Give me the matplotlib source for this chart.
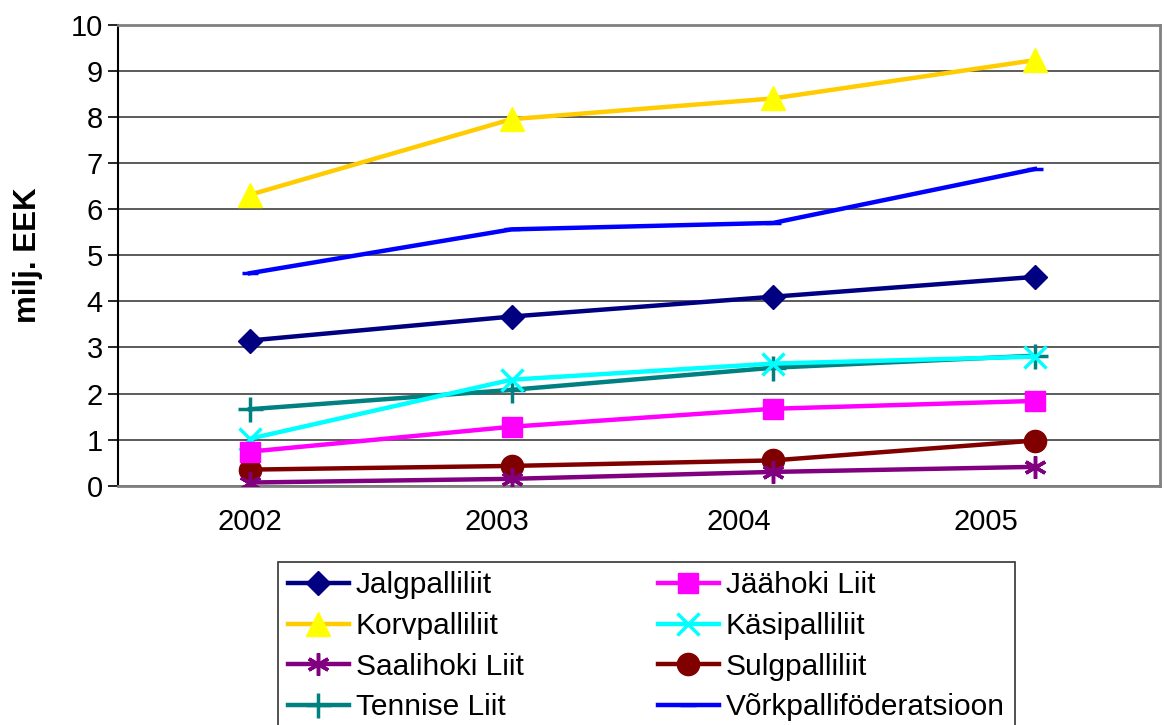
import numpy as np
import matplotlib.pyplot as plt

plt.rcParams['font.family'] = ['Liberation Sans', 'DejaVu Sans']

years = ['2002', '2003', '2004', '2005']
# label positions as drawn in the original (slightly shifted from the data points)
label_pos = [0, 0.943, 1.87, 2.813]

names = ['Jalgpalliliit', 'Jäähoki Liit', 'Korvpalliliit', 'Käsipalliliit',
         'Saalihoki Liit', 'Sulgpalliliit', 'Tennise Liit', 'Võrkpalliföderatsioon']
jalgpall = [3.15, 3.67, 4.10, 4.53]
jaahoki = [0.74, 1.28, 1.67, 1.84]
korvpall = [6.31, 7.95, 8.40, 9.23]
kasipall = [1.02, 2.30, 2.65, 2.80]
saalihoki = [0.07, 0.15, 0.30, 0.41]
sulgpall = [0.35, 0.43, 0.55, 0.98]
tennis = [1.66, 2.08, 2.56, 2.82]
vorkpall = [4.61, 5.56, 5.70, 6.87]

series = [jalgpall, jaahoki, korvpall, kasipall, saalihoki, sulgpall, tennis, vorkpall]
line_cols = ['#000080', '#FF00FF', '#FFCC00', '#00FFFF', '#800080', '#800000', '#008080', '#0000FF']
face_cols = ['#000080', '#FF00FF', '#FFFF00', '#00FFFF', '#800080', '#800000', '#008080', '#0000FF']
markers = ['D', 's', '^', 'x', (6, 2, 0), 'o', '+', '_']
msizes = [12, 15, 17, 16, 16, 16, 18, 12]

fig = plt.figure(figsize=(11.68, 7.25), dpi=100)
ax = fig.add_axes([0.101, 0.330, 0.892, 0.636])

x = np.arange(len(years))
handles = []
for i in range(len(series)):
    h, = ax.plot(x, series[i], color=line_cols[i], lw=3.2, marker=markers[i], ms=msizes[i],
                 mfc=face_cols[i], mec=face_cols[i], mew=2.5 if i in (3, 4, 6, 7) else 1,
                 label=names[i], zorder=3 + (8 - i) * 0.1)
    handles.append(h)

ax.set_xlim(-0.504, 3.477)
ax.set_ylim(0, 10)
ax.set_yticks(range(0, 11))
ax.set_xticks(label_pos)
ax.set_xticklabels(years)
ax.tick_params(axis='x', length=0, pad=16, labelsize=21)
ax.tick_params(axis='y', length=7, width=1.2, direction='out', labelsize=21, pad=4)
ax.grid(axis='y', color='#404040', lw=1.2)
ax.set_axisbelow(True)
for s in ['top', 'right', 'bottom']:
    ax.spines[s].set_color('#808080')
    ax.spines[s].set_linewidth(2)
ax.spines['left'].set_color('black')
ax.spines['left'].set_linewidth(1.5)
ax.set_ylabel('milj. EEK', fontsize=22.5, fontweight='bold', labelpad=20)

# legend is filled row by row in the original
order = [0, 2, 4, 6, 1, 3, 5, 7]
leg = fig.legend([handles[k] for k in order], [names[k] for k in order],
                 loc='upper left', bbox_to_anchor=(0.238, 0.225), ncol=2, fontsize=21.5,
                 frameon=True, fancybox=False, edgecolor='black', handlelength=2.05,
                 handletextpad=0.23, labelspacing=0.42, columnspacing=4.5,
                 borderpad=0.32, borderaxespad=0)
leg.get_frame().set_linewidth(1.2)

fig.savefig('out.png', dpi=100)
